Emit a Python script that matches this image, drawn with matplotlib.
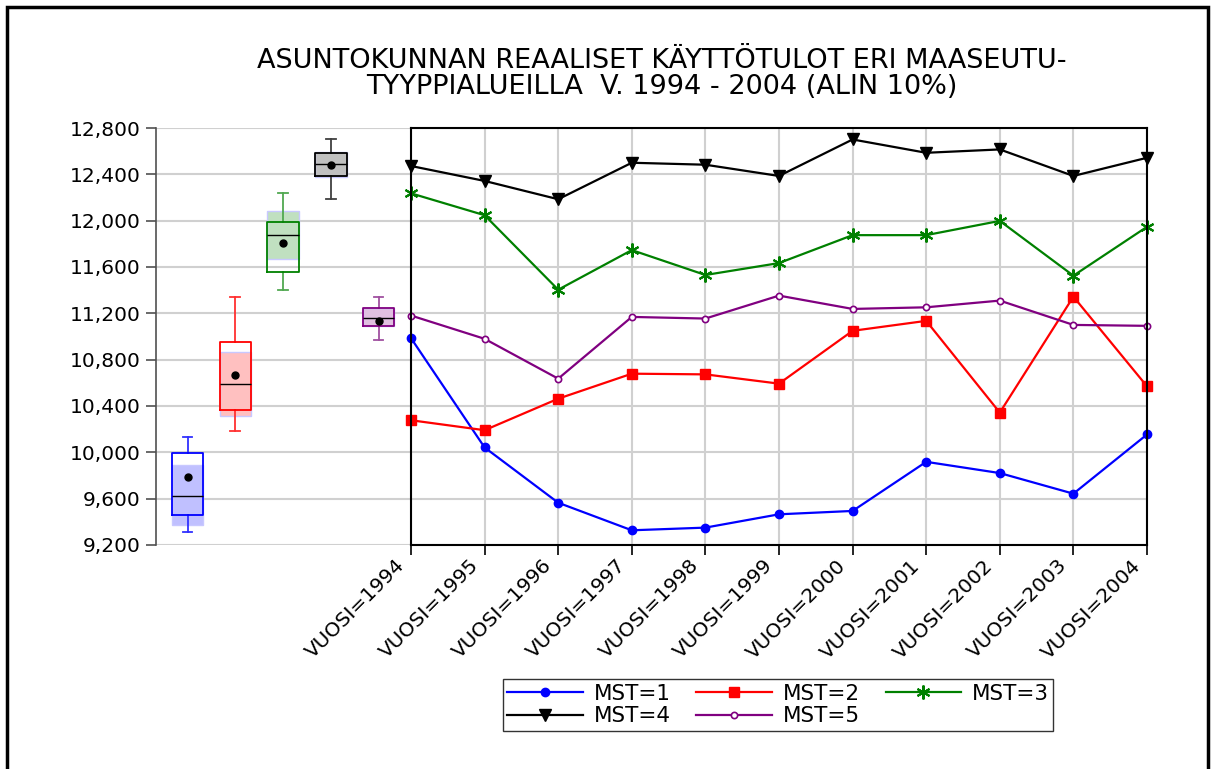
import matplotlib
matplotlib.use("Agg")
import matplotlib.pyplot as plt
from matplotlib.patches import Rectangle
from matplotlib.ticker import FuncFormatter
from matplotlib.transforms import ScaledTranslation

# categories
years = ["VUOSI=1994", "VUOSI=1995", "VUOSI=1996", "VUOSI=1997", "VUOSI=1998", "VUOSI=1999",
         "VUOSI=2000", "VUOSI=2001", "VUOSI=2002", "VUOSI=2003", "VUOSI=2004"]
labels = ["MST=1", "MST=2", "MST=3", "MST=4", "MST=5"]

# series values
mst1 = [10986, 10042, 9565, 9327, 9350, 9465, 9494, 9918, 9821, 9643, 10154]
mst2 = [10277, 10191, 10463, 10679, 10673, 10593, 11049, 11135, 10343, 11344, 10570]
mst3 = [12236, 12047, 11404, 11746, 11531, 11634, 11875, 11875, 11998, 11525, 11947]
mst4 = [12472, 12343, 12185, 12500, 12483, 12386, 12701, 12586, 12615, 12386, 12543]
mst5 = [11181, 10980, 10636, 11169, 11155, 11353, 11238, 11252, 11310, 11100, 11092]

# box plot summaries per group
whis_lo = [9311, 10185, 11405, 12187, 10972]
q1 = [9456, 10364, 11555, 12386, 11088]
med = [9626, 10586, 11875, 12487, 11160]
mean = [9787, 10667, 11809, 12484, 11131]
q3 = [9998, 10952, 11988, 12585, 11244]
whis_hi = [10136, 11342, 12241, 12709, 11342]
ci_lo = [9369, 10312, 11665, 12380, 11088]
ci_hi = [9888, 10866, 12080, 12590, 11244]

colors = ["#0000ff", "#ff0000", "#008000", "#000000", "#800080"]
whisker_colors = ["#3030ff", "#ff3030", "#50a850", "#404040", "#a050a0"]
shades = ["#c0c0ff", "#ffc0c0", "#c0e0c0", "#c0c0c0", "#e0c0e0"]

W, H = 1211, 769
fig = plt.figure(figsize=(W / 100, H / 100), dpi=100)

y0, y1 = 128, 545
ax1 = fig.add_axes([156 / W, 1 - y1 / H, (411 - 156) / W, (y1 - y0) / H])
ax2 = fig.add_axes([411 / W, 1 - y1 / H, (1147 - 411) / W, (y1 - y0) / H])

grid_c = "#d0d0d0"
yticks = list(range(9200, 12801, 400))

# ---- box plots
pos = [1, 2, 3, 4, 5]
ax1.bar(pos, [h - l for l, h in zip(ci_lo, ci_hi)], bottom=ci_lo, width=0.66,
        color=shades, edgecolor="#c8c8ff", linewidth=1, zorder=2)
stats = []
for i in range(5):
    stats.append(dict(med=med[i], q1=q1[i], q3=q3[i], whislo=whis_lo[i],
                      whishi=whis_hi[i], mean=mean[i], fliers=[]))
bp = ax1.bxp(stats, positions=pos, widths=0.66, showmeans=True, showfliers=False,
             meanprops=dict(marker="o", markerfacecolor="black", markeredgecolor="black",
                            markersize=5),
             medianprops=dict(color="black", linewidth=1),
             capwidths=0.2)
for i in range(5):
    bp["boxes"][i].set_color(colors[i])
    bp["boxes"][i].set_linewidth(1.3)
    bp["boxes"][i].set_zorder(3)
    bp["medians"][i].set_zorder(4)
    bp["means"][i].set_zorder(5)
    for w in bp["whiskers"][2 * i:2 * i + 2] + bp["caps"][2 * i:2 * i + 2]:
        w.set_color(whisker_colors[i])
        w.set_linewidth(1.3)

ax1.set_xlim(0.34, 5.68)
ax1.set_ylim(9200, 12800)
ax1.set_yticks(yticks)
ax1.yaxis.set_major_formatter(FuncFormatter(lambda v, p: f"{int(v):,}"))
ax1.set_xticks([])
for s in ["top", "right", "bottom"]:
    ax1.spines[s].set_visible(False)
ax1.spines["left"].set_color("#505050")
ax1.spines["left"].set_linewidth(1.2)
ax1.tick_params(axis="y", direction="out", length=7, width=1.2, color="#505050",
                labelsize=14.5, pad=4)
ax1.yaxis.grid(True, color=grid_c, linewidth=1.5, zorder=0)
ax1.set_axisbelow(True)

# ---- line chart
x = list(range(len(years)))
ax2.plot(x, mst1, color=colors[0], lw=1.6, marker="o", ms=6, label=labels[0])
ax2.plot(x, mst2, color=colors[1], lw=1.6, marker="s", ms=7.5, label=labels[1])
ax2.plot(x, mst3, color=colors[2], lw=1.6, marker=(6, 2, 0), ms=10, mew=1.5, label=labels[2])
ax2.plot(x, mst4, color=colors[3], lw=1.6, marker="v", ms=8, label=labels[3])
ax2.plot(x, mst5, color=colors[4], lw=1.6, marker="o", ms=4.5, mfc="white", mew=1.2,
         label=labels[4])
for ln in ax2.lines:
    ln.set_clip_on(False)

ax2.set_xlim(0, 10)
ax2.set_ylim(9200, 12800)
ax2.set_yticks(yticks)
ax2.set_yticklabels([])
ax2.tick_params(axis="y", length=0)
ax2.set_xticks(x)
ax2.set_xticklabels(years, rotation=45, ha="right", va="top", rotation_mode="anchor",
                    fontsize=14.5)
ax2.tick_params(axis="x", direction="out", length=7, width=1.2, pad=3)
shift = ScaledTranslation(-0.16, 0.03, fig.dpi_scale_trans)
for t in ax2.get_xticklabels():
    t.set_transform(t.get_transform() + shift)
ax2.grid(True, color=grid_c, linewidth=1.5)
ax2.set_axisbelow(True)
for s in ax2.spines.values():
    s.set_linewidth(1.5)
    s.set_color("black")

# title
fig.text(662 / W, 1 - 48 / H,
         "ASUNTOKUNNAN REAALISET KÄYTTÖTULOT ERI MAASEUTU-\nTYYPPIALUEILLA  V. 1994 - 2004 (ALIN 10%)",
         ha="center", va="top", fontsize=19.5, multialignment="center", linespacing=1.02)

# legend in row order
h, l = ax2.get_legend_handles_labels()
order = [0, 3, 1, 4, 2]
leg = fig.legend([h[i] for i in order], [l[i] for i in order], ncol=3, loc="center",
                 bbox_to_anchor=(778 / W, 1 - 705 / H), fontsize=15.5, frameon=True,
                 fancybox=False, handlelength=3.5, handletextpad=0.5, columnspacing=1.2,
                 labelspacing=0.12, borderpad=0.2)
leg.get_frame().set_edgecolor("black")
leg.get_frame().set_linewidth(1)

# outer frame
fig.patches.append(Rectangle((7 / W, -0.01), (1208 - 7) / W, 1 - 7 / H + 0.01,
                             transform=fig.transFigure, fill=False, edgecolor="black",
                             linewidth=2.5))

fig.savefig("out.png", dpi=100)
